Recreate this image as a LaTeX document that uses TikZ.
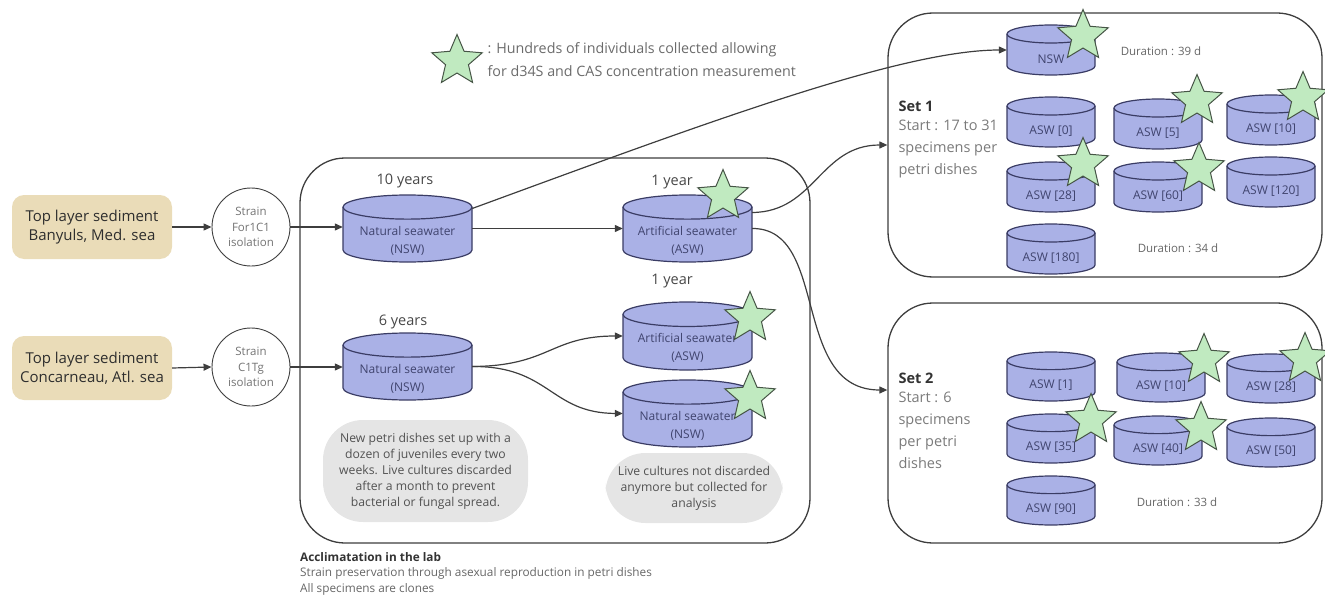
\documentclass[tikz,border=0pt]{standalone}
\usepackage{fontspec}
\setmainfont{Open Sans}
\usetikzlibrary{shapes.geometric,arrows.meta,calc}
\definecolor{boxtan}{RGB}{234,220,184}
\definecolor{dishfill}{RGB}{170,177,230}
\definecolor{dishedge}{RGB}{58,60,100}
\definecolor{dishtxt}{RGB}{64,68,110}
\definecolor{starfill}{RGB}{192,234,192}
\definecolor{staredge}{RGB}{70,85,70}
\definecolor{notefill}{RGB}{229,229,229}
\definecolor{linec}{RGB}{62,62,62}
\newcommand\fs[2]{\fontsize{#1}{#2}\selectfont}
\newcommand\dish[6]{%
 \pgfmathsetmacro\dw{#4-#2}\pgfmathsetmacro\dh{#5-#3}%
 \pgfmathsetmacro\de{0.18*\dh}\pgfmathsetmacro\drx{\dw/2}%
 \pgfmathsetmacro\dcx{(#2+#4)/2}%
 \filldraw[dishbody] (#2,#3+\de) -- (#2,#5-\de) arc[start angle=180,end angle=0,x radius=\drx,y radius=\de] -- (#4,#3+\de) arc[start angle=0,end angle=-180,x radius=\drx,y radius=\de] -- cycle;
 \draw[dishbody] (#2,#3+\de) arc[start angle=180,end angle=0,x radius=\drx,y radius=\de];
 \node[inner sep=0pt,minimum width=\dw pt,minimum height=\dh pt] (#1) at (\dcx,{(#3+#5)/2}) {};
 \node[dishtext] (#1-t) at (\dcx,{(#3+2*\de+#5)/2}) {#6};
}
\tikzset{
 conn/.style={draw=linec, line width=1.2pt, -{Triangle[length=8pt,width=7pt]}},
 sed/.style={rectangle, rounded corners=12pt, fill=boxtan, minimum width=160pt, minimum height=64pt, align=center, font=\fs{15}{19}, text=black!82},
 strain/.style={circle, draw=linec, line width=0.9pt, minimum size=78pt, inner sep=0pt, align=center, font=\fs{11.5}{15.5}, text=black!55},
 dishbody/.style={fill=dishfill, draw=dishedge, line width=1.2pt},
 dishtext/.style={align=center, font=\fs{12}{18}, text=dishtxt, inner sep=0pt},
 bigbox/.style={draw=linec, line width=1.3pt, rounded corners=45pt},
 note/.style={fill=notefill, rounded corners=40pt, align=center, font=\fs{12.2}{16}, text=black!68},
 yrs/.style={font=\fs{14.5}{16}, text=black!72},
 ministar/.style={star, star points=5, star point ratio=2.2, fill=starfill, draw=staredge, line width=1pt, minimum size=53pt, inner sep=0pt},
 dur/.style={font=\fs{11.5}{13}, text=black!60},
 settitle/.style={font=\bfseries\fs{14.5}{21}, text=black!80, anchor=west},
 settext/.style={font=\fs{14.5}{22}, text=black!52, anchor=north west, align=left},
}
\begin{document}
\begin{tikzpicture}[x=1pt,y=-1pt]
\useasboundingbox (0,0) rectangle (1325,599);
% big frames
\node[bigbox, minimum width=510pt, minimum height=385pt] (lab) at (555,350.5) {};
\node[bigbox, minimum width=434pt, minimum height=264pt] (set1) at (1105,145) {};
\node[bigbox, minimum width=434pt, minimum height=240pt] (set2) at (1105,423) {};
% sources
\node[sed] (b1) at (92,227) {Top layer sediment\\Banyuls, Med. sea};
\node[sed] (b2) at (92,368) {Top layer sediment\\Concarneau, Atl. sea};
\node[strain] (c1) at (251,227) {Strain\\For1C1\\isolation};
\node[strain] (c2) at (251,367) {Strain\\C1Tg\\isolation};
% lab dishes
\dish{nsw10}{343}{195}{472}{262}{Natural seawater\\(NSW)}
\dish{asw1}{623}{195}{752}{262}{Artificial seawater\\(ASW)}
\dish{nsw6}{343}{333}{472}{400}{Natural seawater\\(NSW)}
\dish{asw2}{623}{302}{752}{370}{Artificial seawater\\(ASW)}
\dish{nsw3}{623}{380}{752}{447}{Natural seawater\\(NSW)}
\node[yrs] (y10) at (405,181) {10 years};
\node[yrs] (y1a) at (672,182) {1 year};
\node[yrs] (y6) at (403,322) {6 years};
\node[yrs] (y1b) at (672,281) {1 year};
\node[note, minimum width=205pt, minimum height=102pt] (n1) at (425.5,471) {New petri dishes set up with a\\dozen of juveniles every two\\weeks. Live cultures discarded\\after a month to prevent\\bacterial or fungal spread.};
\node[note, minimum width=177pt, minimum height=70pt] (n2) at (694,488) {Live cultures not discarded\\anymore but collected for\\analysis};
% set 1
\node[settitle] (s1t) at (895,106) {Set 1};
\node[settext] (s1x) at (895,116) {Start : 17 to 31\\specimens per\\petri dishes};
\dish{s1nsw}{1007}{25}{1095}{75}{NSW}
\dish{s1a0}{1007}{97}{1095}{147}{ASW [0]}
\dish{s1a5}{1114}{99}{1202}{149}{ASW [5]}
\dish{s1a10}{1227}{95}{1315}{145}{ASW [10]}
\dish{s1a28}{1007}{162}{1095}{212}{ASW [28]}
\dish{s1a60}{1114}{162}{1202}{212}{ASW [60]}
\dish{s1a120}{1227}{157}{1315}{207}{ASW [120]}
\dish{s1a180}{1007}{224}{1095}{274}{ASW [180]}
\node[dur] (d39) at (1161,51) {Duration : 39 d};
\node[dur] (d34) at (1178,248) {Duration : 34 d};
% set 2
\node[settitle] (s2t) at (895,378) {Set 2};
\node[settext] (s2x) at (895,388) {Start : 6\\specimens\\per petri\\dishes};
\dish{s2a1}{1007}{352}{1095}{401}{ASW [1]}
\dish{s2a10}{1117}{353}{1205}{402}{ASW [10]}
\dish{s2a28}{1227}{354}{1315}{403}{ASW [28]}
\dish{s2a35}{1007}{414}{1095}{463}{ASW [35]}
\dish{s2a40}{1114}{416}{1202}{465}{ASW [40]}
\dish{s2a50}{1227}{418}{1315}{467}{ASW [50]}
\dish{s2a90}{1007}{476}{1095}{525}{ASW [90]}
\node[dur] (d33) at (1177,502) {Duration : 33 d};
% stars
\node[ministar] (stl) at (457,61) {};
\node[ministar] (sta) at (723,196) {};
\node[ministar] (stb) at (750,318) {};
\node[ministar] (stc) at (750,397) {};
\node[ministar] (std) at (1083,36) {};
\node[ministar] (ste) at (1197,101) {};
\node[ministar] (stf) at (1303,98) {};
\node[ministar] (stg) at (1083,164) {};
\node[ministar] (sth) at (1199,169) {};
\node[ministar] (sti) at (1204,360) {};
\node[ministar] (stj) at (1305,359) {};
\node[ministar] (stk) at (1091,420) {};
\node[ministar] (stm) at (1201,428) {};
% legend
\node[anchor=west, align=left, font=\fs{14.3}{23}, text=black!58] (leg) at (484,60) {: Hundreds of individuals collected allowing\\for d34S and CAS concentration measurement};
% bottom text
\node[anchor=north west, align=left, inner sep=0pt, font=\fs{11.8}{15.5}, text=black!60] (foot) at (300,552) {{\bfseries\color{black!80}Acclimatation in the lab}\\Strain preservation through asexual reproduction in petri dishes\\All specimens are clones};
% connectors
\draw[conn] (b1.east) -- (c1.west);
\draw[conn] (b2.east) -- (c2.west);
\draw[conn] (c1.east) -- (c1.east -| nsw10.west);
\draw[conn] (c2.east) -- (c2.east -| nsw6.west);
\draw[conn] (nsw10.east) -- (nsw10.east -| asw1.west);
\draw[conn] ($(nsw10.east)+(0,-20)$) .. controls (700,125) and (900,50) .. (s1nsw.west);
\draw[conn] ($(asw1.east)+(0,-16)$) .. controls (815,212) and (820,145) .. (set1.west);
\draw[conn] (asw1.east) .. controls (830,228) and (790,390) .. ($(set2.west)+(0,-33)$);
\draw[conn] (nsw6.east) .. controls (550,366) and (550,336) .. (asw2.west);
\draw[conn] (nsw6.east) .. controls (550,366) and (550,413) .. (nsw3.west);
\end{tikzpicture}
\end{document}
